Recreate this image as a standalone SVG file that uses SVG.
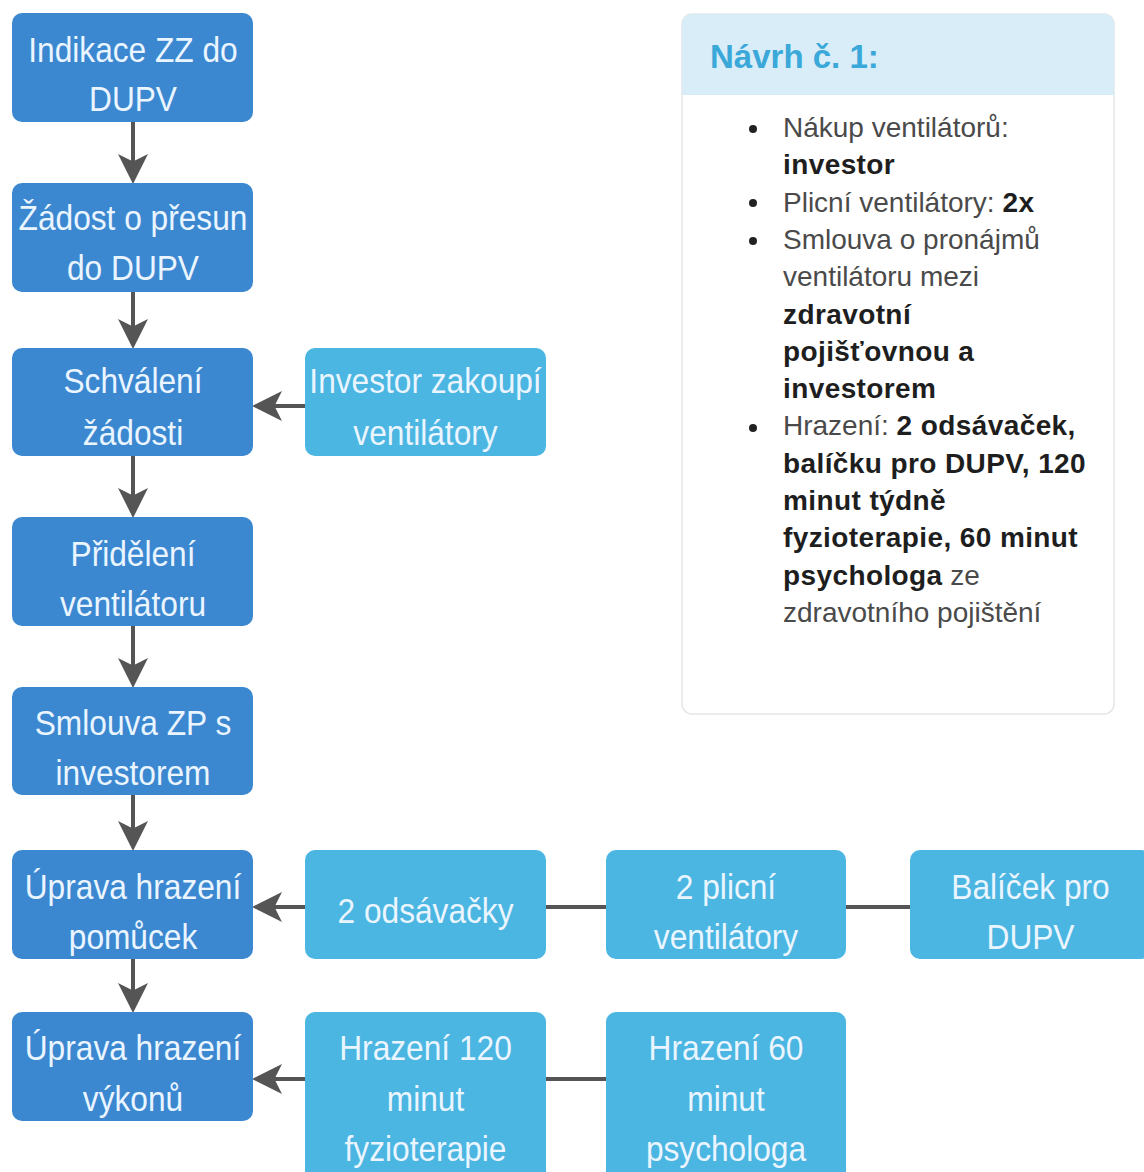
<svg xmlns="http://www.w3.org/2000/svg" width="1144" height="1172" viewBox="0 0 1144 1172">
<defs>
<style>
.main{fill:#3b88d1}
.side{fill:#4bb6e1}
.t{font-family:"Liberation Sans",Arial,sans-serif;font-size:36px;fill:#eaf5ff;text-anchor:middle}
.c{stroke:#555;stroke-width:4;fill:none}
.note{fill:#fff;stroke:#e3e6e8;stroke-width:1.5}
.hdr{fill:#d9edf8}
.title{font-family:"Liberation Sans",Arial,sans-serif;font-size:33px;font-weight:bold;fill:#3aa8d8}
.b{font-family:"Liberation Sans",Arial,sans-serif;font-size:28px;fill:#4a4a4a}
.bb{font-weight:bold;fill:#1e1e1e;letter-spacing:0.4px}
.dot{fill:#222}
</style>
<marker id="ah" markerUnits="userSpaceOnUse" markerWidth="30" markerHeight="30" viewBox="0 0 28 28" refX="14" refY="14" orient="auto">
<path d="M0,0 L28,14 L0,28 L7,14 Z" fill="#555"/>
</marker>
</defs>
<rect width="1144" height="1172" fill="#fff"/>

<g id="connectors">
<line class="c" x1="133" y1="122" x2="133" y2="169" marker-end="url(#ah)"/>
<line class="c" x1="133" y1="292" x2="133" y2="334" marker-end="url(#ah)"/>
<line class="c" x1="133" y1="456" x2="133" y2="503" marker-end="url(#ah)"/>
<line class="c" x1="133" y1="626" x2="133" y2="673" marker-end="url(#ah)"/>
<line class="c" x1="133" y1="795" x2="133" y2="836" marker-end="url(#ah)"/>
<line class="c" x1="133" y1="959" x2="133" y2="998" marker-end="url(#ah)"/>
<line class="c" x1="305" y1="406" x2="267" y2="406" marker-end="url(#ah)"/>
<line class="c" x1="305" y1="907" x2="267" y2="907" marker-end="url(#ah)"/>
<line class="c" x1="305" y1="1079" x2="267" y2="1079" marker-end="url(#ah)"/>
<line class="c" x1="546" y1="907" x2="606" y2="907"/>
<line class="c" x1="846" y1="907" x2="910" y2="907"/>
<line class="c" x1="546" y1="1079" x2="606" y2="1079"/>
</g>

<g id="n1"><rect class="main" x="12" y="13" width="241" height="109" rx="10"/>
<text class="t" transform="translate(133 0) scale(0.88 1)"><tspan x="0" y="62">Indikace ZZ do</tspan><tspan x="0" y="111">DUPV</tspan></text></g>
<g id="n2"><rect class="main" x="12" y="183" width="241" height="109" rx="10"/>
<text class="t" transform="translate(133 0) scale(0.88 1)"><tspan x="0" y="230">Žádost o přesun</tspan><tspan x="0" y="280">do DUPV</tspan></text></g>
<g id="n3"><rect class="main" x="12" y="348" width="241" height="108" rx="10"/>
<text class="t" transform="translate(133 0) scale(0.88 1)"><tspan x="0" y="393">Schválení</tspan><tspan x="0" y="445">žádosti</tspan></text></g>
<g id="n4"><rect class="main" x="12" y="517" width="241" height="109" rx="10"/>
<text class="t" transform="translate(133 0) scale(0.88 1)"><tspan x="0" y="566">Přidělení</tspan><tspan x="0" y="616">ventilátoru</tspan></text></g>
<g id="n5"><rect class="main" x="12" y="687" width="241" height="108" rx="10"/>
<text class="t" transform="translate(133 0) scale(0.88 1)"><tspan x="0" y="735">Smlouva ZP s</tspan><tspan x="0" y="785">investorem</tspan></text></g>
<g id="n6"><rect class="main" x="12" y="850" width="241" height="109" rx="10"/>
<text class="t" transform="translate(133 0) scale(0.88 1)"><tspan x="0" y="899">Úprava hrazení</tspan><tspan x="0" y="949">pomůcek</tspan></text></g>
<g id="n7"><rect class="main" x="12" y="1012" width="241" height="109" rx="10"/>
<text class="t" transform="translate(133 0) scale(0.88 1)"><tspan x="0" y="1060">Úprava hrazení</tspan><tspan x="0" y="1111">výkonů</tspan></text></g>

<g id="s1"><rect class="side" x="305" y="348" width="241" height="108" rx="10"/>
<text class="t" transform="translate(425.5 0) scale(0.88 1)"><tspan x="0" y="393">Investor zakoupí</tspan><tspan x="0" y="445">ventilátory</tspan></text></g>
<g id="s2"><rect class="side" x="305" y="850" width="241" height="109" rx="10"/>
<text class="t" transform="translate(425.5 0) scale(0.88 1)"><tspan x="0" y="923">2 odsávačky</tspan></text></g>
<g id="s3"><rect class="side" x="606" y="850" width="240" height="109" rx="10"/>
<text class="t" transform="translate(726 0) scale(0.88 1)"><tspan x="0" y="899">2 plicní</tspan><tspan x="0" y="949">ventilátory</tspan></text></g>
<g id="s4"><rect class="side" x="910" y="850" width="241" height="109" rx="10"/>
<text class="t" transform="translate(1030.5 0) scale(0.88 1)"><tspan x="0" y="899">Balíček pro</tspan><tspan x="0" y="949">DUPV</tspan></text></g>
<g id="s5"><rect class="side" x="305" y="1012" width="241" height="170" rx="10"/>
<text class="t" transform="translate(425.5 0) scale(0.88 1)"><tspan x="0" y="1060">Hrazení 120</tspan><tspan x="0" y="1111">minut</tspan><tspan x="0" y="1161">fyzioterapie</tspan></text></g>
<g id="s6"><rect class="side" x="606" y="1012" width="240" height="170" rx="10"/>
<text class="t" transform="translate(726 0) scale(0.88 1)"><tspan x="0" y="1060">Hrazení 60</tspan><tspan x="0" y="1111">minut</tspan><tspan x="0" y="1161">psychologa</tspan></text></g>

<g id="note">
<rect class="note" x="682" y="14" width="432" height="700" rx="10"/>
<path class="hdr" d="M692,14 H1104 A10,10 0 0 1 1114,24 V95 H682 V24 A10,10 0 0 1 692,14 Z"/>
<text class="title" x="710" y="68">Návrh č. 1:</text>
<circle class="dot" cx="753" cy="129" r="4"/>
<circle class="dot" cx="753" cy="203" r="4"/>
<circle class="dot" cx="753" cy="241" r="4"/>
<circle class="dot" cx="753" cy="428" r="4"/>
<text class="b">
<tspan x="783" y="137">Nákup ventilátorů:</tspan>
<tspan x="783" y="174.3" class="bb">investor</tspan>
<tspan x="783" y="211.6">Plicní ventilátory: </tspan><tspan class="bb">2x</tspan>
<tspan x="783" y="248.9">Smlouva o pronájmů</tspan>
<tspan x="783" y="286.2">ventilátoru mezi</tspan>
<tspan x="783" y="323.5" class="bb">zdravotní</tspan>
<tspan x="783" y="360.8" class="bb">pojišťovnou a</tspan>
<tspan x="783" y="398.1" class="bb">investorem</tspan>
<tspan x="783" y="435.4">Hrazení: </tspan><tspan class="bb">2 odsávaček,</tspan>
<tspan x="783" y="472.7" class="bb">balíčku pro DUPV, 120</tspan>
<tspan x="783" y="510" class="bb">minut týdně</tspan>
<tspan x="783" y="547.3" class="bb">fyzioterapie, 60 minut</tspan>
<tspan x="783" y="584.6" class="bb">psychologa</tspan><tspan> ze</tspan>
<tspan x="783" y="621.9">zdravotního pojištění</tspan>
</text>
</g>
</svg>
